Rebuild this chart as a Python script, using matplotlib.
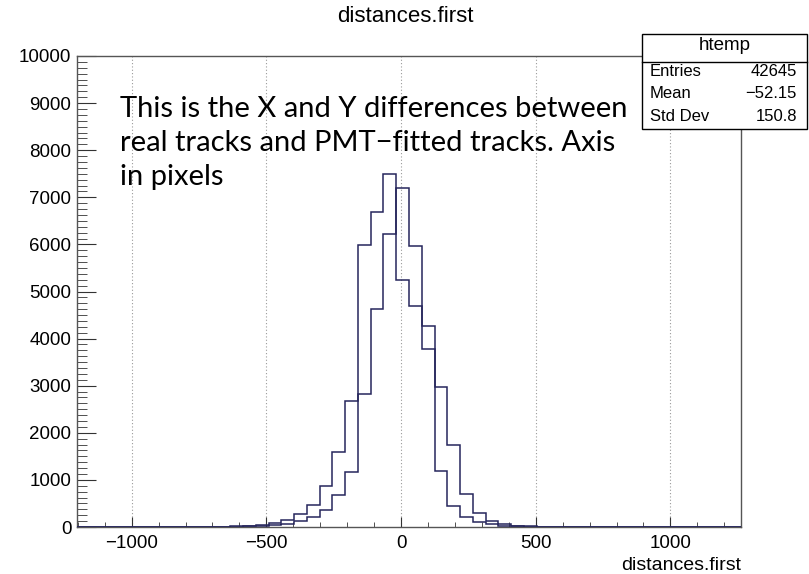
import matplotlib
matplotlib.use('Agg')
import matplotlib.pyplot as plt
import numpy as np
from matplotlib.ticker import MultipleLocator

plt.rcParams['font.family'] = ['Liberation Sans', 'DejaVu Sans']

# histogram binning
bin_lo = -1203.0
bin_width = 47.4
n_bins = 52

# first histogram (htemp), counts per bin
counts_a = [0, 0, 0, 5, 0, 0, 0, 5, 5, 0,
            5, 8, 15, 25, 45, 80, 150, 280, 470, 860,
            1600, 2677, 5989, 6680, 7493, 5254, 4682, 3786, 1193, 452,
            219, 113, 64, 28, 12, 6, 3, 0, 0, 0,
            0, 0, 0, 0, 0, 0, 0, 0, 0, 0,
            0, 0]
# second histogram drawn on top
counts_b = [0, 0, 0, 0, 0, 0, 0, 0, 0, 0,
            0, 0, 8, 12, 25, 45, 60, 120, 210, 370,
            690, 1170, 2832, 4633, 6222, 7189, 5960, 4258, 2973, 1751,
            692, 290, 120, 56, 22, 14, 8, 5, 4, 3,
            3, 2, 0, 0, 0, 0, 0, 0, 0, 0,
            0, 0]

x_range = (-1203, 1262)
y_range = (0, 10000)
grid_x = [-1000, -500, 0, 500, 1000]

stat_names = ['Entries', 'Mean', 'Std Dev']
stat_values = ['42645', '\u221252.15', '150.8']

note = ("This is the X and Y differences between\n"
        "real tracks and PMT\u2212fitted tracks. Axis\n"
        "in pixels")

edges = bin_lo + bin_width * np.arange(n_bins + 1)

fig = plt.figure(figsize=(8.09, 5.74), dpi=100)
ax = fig.add_axes([77 / 809, 1 - 527 / 574, 664 / 809, 471 / 574])

for gx in grid_x:
    ax.axvline(gx, color='#9a9a9a', lw=0.8, ls=(0, (1, 2)), zorder=1)

line_col = '#26265c'
ax.stairs(counts_a, edges, color=line_col, lw=1.1, zorder=3)
ax.stairs(counts_b, edges, color=line_col, lw=1.1, zorder=3)

ax.set_xlim(*x_range)
ax.set_ylim(*y_range)

ax.xaxis.set_major_locator(MultipleLocator(500))
ax.xaxis.set_minor_locator(MultipleLocator(100))
ax.yaxis.set_major_locator(MultipleLocator(1000))
ax.yaxis.set_minor_locator(MultipleLocator(125))

ax.tick_params(axis='both', which='both', direction='in', colors='#333333',
               labelcolor='black', labelsize=13.5, top=False, right=False)
ax.tick_params(axis='x', which='major', length=7.5, pad=6)
ax.tick_params(axis='x', which='minor', length=3.8)
ax.tick_params(axis='y', which='major', length=14, pad=4)
ax.tick_params(axis='y', which='minor', length=7)
ax.xaxis.set_major_formatter(plt.FuncFormatter(
    lambda v, p: ('\u2212%d' % -v) if v < 0 else '%d' % v))

for s in ax.spines.values():
    s.set_color('#555555')
    s.set_linewidth(1.0)

fig.text(405 / 809, 1 - 17 / 574, 'distances.first', ha='center', va='center',
         fontsize=16)
fig.text(741 / 809, 1 - 566 / 574, 'distances.first', ha='right', va='center',
         fontsize=14)

ax.text(0.065, 0.916, note, transform=ax.transAxes, ha='left', va='top',
        fontsize=21, family=['Lato', 'DejaVu Sans'], linespacing=1.4, zorder=4)

# stats box
bx0, bx1 = 641.7 / 809, 807.3 / 809
by0, by1 = 1 - 129 / 574, 1 - 34.3 / 574
sep = 1 - 61.7 / 574
box = plt.Rectangle((bx0, by0), bx1 - bx0, by1 - by0, transform=fig.transFigure,
                    facecolor='white', edgecolor='black', lw=1.0, zorder=10)
fig.add_artist(box)
fig.add_artist(plt.Line2D([bx0, bx1], [sep, sep], transform=fig.transFigure,
                          color='black', lw=1.0, zorder=11))
fig.text((bx0 + bx1) / 2, 1 - 46 / 574, 'htemp', ha='center', va='center',
         fontsize=13.5, zorder=12)
row_y = [71.7, 94, 116.7]
for name, val, ry in zip(stat_names, stat_values, row_y):
    fig.text(650 / 809, 1 - ry / 574, name, ha='left', va='center',
             fontsize=12, zorder=12)
    fig.text(797 / 809, 1 - ry / 574, val, ha='right', va='center',
             fontsize=12, zorder=12)

fig.savefig('out.png', dpi=100)
